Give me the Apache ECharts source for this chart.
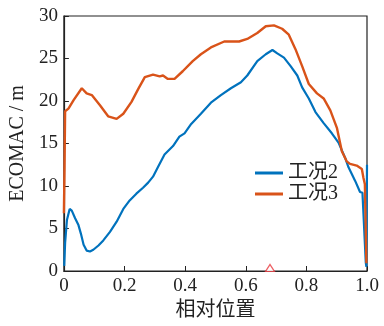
<!DOCTYPE html>
<html><head><meta charset="utf-8">
<script src="https://cdn.jsdelivr.net/npm/echarts@6/dist/echarts.min.js"></script>
<style>html,body{margin:0;padding:0;background:#fff}#c{width:384px;height:326px}</style>
</head><body><div id="c"></div>
<script>
const xTicks = [0, 0.2, 0.4, 0.6, 0.8, 1.0];
const yTicks = [0, 5, 10, 15, 20, 25, 30];
const seriesNames = ['工况2', '工况3'];

const case2X = [0.001,0.004,0.010,0.019,0.026,0.037,0.048,0.056,0.065,0.075,0.086,0.097,0.114,0.130,0.152,0.174,0.196,0.217,0.239,0.261,0.278,0.294,0.310,0.332,0.360,0.381,0.398,0.420,0.452,0.485,0.518,0.551,0.584,0.605,0.638,0.666,0.688,0.704,0.726,0.748,0.770,0.786,0.808,0.830,0.857,0.884,0.906,0.928,0.939,0.961,0.977,0.985,0.991,0.996,0.998,1.000];
const case2Y = [0.6,3.3,6.0,7.3,7.1,6.2,5.4,4.4,3.1,2.4,2.3,2.5,3.0,3.6,4.6,5.8,7.3,8.3,9.1,9.8,10.4,11.1,12.2,13.7,14.7,15.8,16.2,17.3,18.5,19.8,20.7,21.5,22.2,23.0,24.7,25.5,26.0,25.6,25.1,24.1,23.0,21.6,20.3,18.7,17.4,16.2,15.1,13.3,12.2,10.6,9.3,9.2,9.3,1.0,0.5,12.5];

const case3X = [0.000,0.002,0.004,0.015,0.032,0.059,0.075,0.092,0.119,0.146,0.174,0.196,0.223,0.245,0.267,0.294,0.316,0.327,0.343,0.365,0.392,0.425,0.452,0.485,0.529,0.578,0.605,0.638,0.666,0.693,0.720,0.742,0.764,0.786,0.808,0.835,0.857,0.879,0.901,0.917,0.933,0.944,0.966,0.983,0.988,0.993,0.998];
const case3Y = [6.8,12.0,18.8,19.1,20.1,21.5,20.9,20.7,19.5,18.2,17.9,18.5,19.9,21.4,22.8,23.1,22.9,23.0,22.6,22.6,23.5,24.7,25.5,26.3,27.0,27.0,27.3,28.0,28.8,28.9,28.5,27.8,26.1,24.1,22.0,20.9,20.3,18.9,16.8,14.1,12.9,12.6,12.4,12.0,11.0,10.2,0.9];

const markerX = [0.68];
const markerY = [0];

const zip = (a, b) => a.map((v, i) => [v, b[i]]);
const FONT = '"Liberation Serif", "Noto Sans CJK SC", serif';

const chart = echarts.init(document.getElementById('c'));
chart.setOption({
  animation: false,
  grid: { left: 62, right: 17, top: 16, bottom: 51, show: true, borderColor: '#222', borderWidth: 1.2, backgroundColor: 'transparent' },
  legend: {
    data: seriesNames, orient: 'vertical', left: 250, top: 158,
    itemWidth: 28, itemHeight: 3, itemGap: 1, icon: 'rect',
    textStyle: { fontFamily: FONT, fontSize: 20, color: '#222' }
  },
  xAxis: {
    type: 'value', min: 0, max: 1, interval: 0.2,
    name: '相对位置', nameLocation: 'middle', nameGap: 30,
    nameTextStyle: { fontFamily: FONT, fontSize: 20, color: '#222' },
    axisLine: { lineStyle: { color: '#222', width: 1.2 } },
    axisTick: { inside: true, length: 5, lineStyle: { color: '#222' } },
    axisLabel: { fontFamily: FONT, fontSize: 19, color: '#222', margin: 6,
      formatter: v => v === 0 ? '0' : v.toFixed(1) },
    splitLine: { show: false }
  },
  yAxis: {
    type: 'value', min: 0, max: 30, interval: 5,
    name: 'ECOMAC / m', nameLocation: 'middle', nameGap: 34,
    nameTextStyle: { fontFamily: FONT, fontSize: 20, color: '#222' },
    axisLine: { show: true, lineStyle: { color: '#222', width: 1.2 } },
    axisTick: { show: true, inside: true, length: 5, lineStyle: { color: '#222' } },
    axisLabel: { fontFamily: FONT, fontSize: 19, color: '#222', margin: 6 },
    splitLine: { show: false }
  },
  series: [
    { name: seriesNames[0], type: 'line', data: zip(case2X, case2Y), showSymbol: false, symbol: 'none',
      lineStyle: { color: '#0072BD', width: 2.2 }, itemStyle: { color: '#0072BD' } },
    { name: seriesNames[1], type: 'line', data: zip(case3X, case3Y), showSymbol: false, symbol: 'none',
      lineStyle: { color: '#D95319', width: 2.4 }, itemStyle: { color: '#D95319' } },
    { name: 'marker', type: 'scatter', data: zip(markerX, markerY), symbol: 'triangle', symbolSize: [9, 7],
      symbolOffset: [0, -3], itemStyle: { color: '#fff', borderColor: '#e8383d', borderWidth: 1.2 }, z: 5 }
  ]
});
</script></body></html>
